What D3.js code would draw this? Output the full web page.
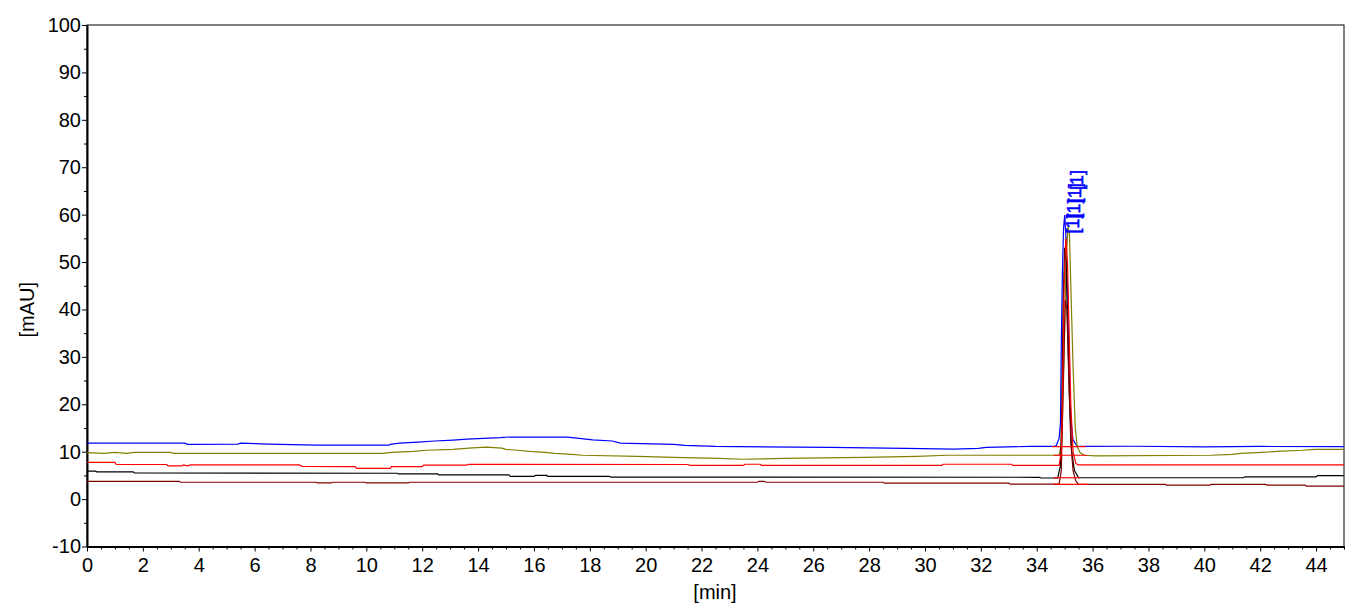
<!DOCTYPE html>
<html>
<head>
<meta charset="utf-8">
<script src="https://cdnjs.cloudflare.com/ajax/libs/d3/7.8.5/d3.min.js"></script>
<style>
  body { margin: 0; background: #fff; }
  .axis text { font-family: "Liberation Sans", Arial, sans-serif; font-size: 20px; fill: #000; }
  .axis path, .axis line { stroke: #000; }
  .trace { fill: none; stroke-width: 1.2; }
  .title { font-family: "Liberation Sans", Arial, sans-serif; font-size: 20px; fill: #000; }
  .plabel { font-family: "Liberation Sans", Arial, sans-serif; font-size: 18px; fill: #0000ff; stroke: #0000ff; stroke-width: 0.5; }
</style>
</head>
<body>
<div class="chromGraph"></div>
<script>

// x ticks (min) and y ticks (mAU)
var xTicks = [0, 2, 4, 6, 8, 10, 12, 14, 16, 18, 20, 22, 24, 26, 28, 30, 32, 34, 36, 38, 40, 42, 44];
var yTicks = [-10, 0, 10, 20, 30, 40, 50, 60, 70, 80, 90, 100];

// traces: [time, mAU]
var blueTrace = [[0, 11.8], [3.5, 11.8], [3.6, 11.55], [5.4, 11.6], [5.5, 11.8], [6.5, 11.6], [8.2, 11.4], [10.8, 11.4],
  [10.9, 11.6], [11.2, 11.8], [11.85, 12.0], [12.45, 12.25], [13.1, 12.45], [13.6, 12.65], [14.8, 12.95], [15.1, 13.1],
  [17.2, 13.05], [17.7, 12.75], [18.1, 12.5], [18.8, 12.25], [19.1, 11.8], [21, 11.55], [21.4, 11.35], [22.5, 11.1],
  [26.6, 10.9], [29.3, 10.7], [31.05, 10.55], [31.9, 10.7], [32.2, 10.9], [33.75, 11.1], [34.6, 11.1],
  [34.7, 11.3], [34.8, 12.8], [34.85, 16], [34.88, 33], [34.92, 48], [34.96, 57], [35.0, 59.9], [35.05, 55],
  [35.1, 45], [35.14, 33], [35.2, 18], [35.3, 12.5], [35.45, 11.1], [37.5, 11.15], [40, 11.0], [42, 11.1], [45, 11.05]];

var oliveTrace = [[0, 9.8], [0.6, 9.65], [1.0, 9.85], [1.4, 9.65], [1.7, 9.85], [3.0, 9.85], [3.1, 9.65], [10.6, 9.65],
  [10.9, 9.85], [11.7, 10.05], [12.15, 10.3], [13.1, 10.5], [13.8, 10.8], [14.3, 10.95], [14.85, 10.75], [15.0, 10.5],
  [15.4, 10.3], [15.85, 10.05], [16.4, 9.85], [16.75, 9.65], [17.35, 9.45], [17.75, 9.25], [19.7, 9.0], [21, 8.8],
  [22.6, 8.6], [23.5, 8.4], [25.0, 8.6], [27.8, 8.8], [29.7, 9.0], [30.8, 9.25], [34.8, 9.25],
  [34.9, 12], [34.98, 30], [35.05, 50], [35.12, 57.5], [35.17, 56], [35.22, 45], [35.3, 28], [35.38, 15],
  [35.45, 11], [35.55, 9.8], [35.7, 9.25], [36.1, 9.1], [40.25, 9.25], [41, 9.45], [41.3, 9.65], [42.05, 9.85],
  [42.6, 10.05], [43.5, 10.3], [43.95, 10.5], [45, 10.5]];

var redTrace = [[0, 7.75], [1.0, 7.75], [1.05, 7.3], [2.85, 7.3], [2.9, 7.0], [3.4, 7.0], [3.45, 7.2], [3.6, 7.0],
  [3.7, 7.2], [7.6, 7.2], [7.7, 6.9], [9.6, 6.85], [9.65, 6.5], [10.85, 6.5], [10.9, 6.85], [12.0, 6.85], [12.05, 7.15],
  [13.6, 7.15], [13.65, 7.35], [21.5, 7.3], [21.6, 7.1], [23.5, 7.1], [23.55, 7.35], [24.1, 7.35], [24.15, 7.1],
  [30.6, 7.1], [30.65, 7.35], [33.1, 7.35], [33.15, 7.1], [34.8, 7.1],
  [34.88, 10], [34.93, 25], [34.98, 45], [35.04, 55], [35.1, 50], [35.16, 35], [35.22, 20], [35.3, 10],
  [35.4, 7.5], [35.5, 7.2], [45, 7.2]];

var blackTrace = [[0, 5.9], [0.3, 5.9], [0.35, 5.75], [1.65, 5.75], [1.7, 5.5], [11.1, 5.45], [11.15, 5.3], [12.55, 5.3],
  [12.6, 5.1], [15.1, 5.1], [15.15, 4.8], [16, 4.8], [16.05, 5.0], [16.45, 5.0], [16.5, 4.8], [18.7, 4.8], [18.75, 4.65],
  [34.1, 4.6], [34.15, 4.45], [34.75, 4.45],
  [34.85, 7], [34.9, 20], [34.95, 42], [35.0, 53], [35.05, 50], [35.1, 38], [35.17, 22], [35.25, 10], [35.35, 6],
  [35.5, 4.5], [41.4, 4.5], [41.45, 4.7], [44, 4.7], [44.05, 4.95], [45, 4.95]];

var maroonTrace = [[0, 3.75], [3.3, 3.75], [3.35, 3.55], [8.2, 3.55], [8.25, 3.4], [8.75, 3.4], [8.8, 3.55], [9.95, 3.55],
  [10, 3.4], [11.5, 3.4], [11.55, 3.55], [24, 3.55], [24.05, 3.75], [24.25, 3.75], [24.3, 3.55], [28.5, 3.55],
  [28.55, 3.35], [33.0, 3.35], [33.05, 3.15], [34.8, 3.15],
  [34.88, 6], [34.95, 25], [35.02, 42], [35.08, 40], [35.15, 25], [35.22, 12], [35.3, 6], [35.4, 3.8],
  [35.5, 3.1], [38.6, 3.1], [38.65, 2.95], [40.2, 2.95], [40.25, 3.1], [42.2, 3.1], [42.25, 2.95], [43.6, 2.95],
  [43.65, 2.75], [45, 2.75]];

// integration baselines under the peak: [start, end, level]
var peakBaselines = [[34.55, 35.75, 11.05], [34.6, 35.8, 9.25], [34.6, 35.55, 4.5], [34.6, 35.85, 3.1]];

// peak labels: [time, mAU, text]
var peakLabels = [[35.5, 56.0, "[1]"], [35.55, 59.2, "[1]"], [35.6, 62.4, "[1]"], [35.65, 65.2, "[1]"]];

var width = 1356;
var height = 614;
var margin = {top: 25, left: 87, right: 12, bottom: 67.5};
var plotW = width - margin.left - margin.right;
var plotH = height - margin.top - margin.bottom;

var x = d3.scaleLinear().domain([0, 45]).range([0, plotW]);
var y = d3.scaleLinear().domain([-10, 100]).range([plotH, 0]);

var svg = d3.select('.chromGraph').append('svg')
            .attr('width', width)
            .attr('height', height);

var chartGroup = svg.append('g')
                    .attr('transform', 'translate(' + margin.left + ',' + margin.top + ')');

// frame top and right
chartGroup.append('rect')
          .attr('x', 0).attr('y', 0)
          .attr('width', plotW).attr('height', plotH)
          .attr('fill', 'none').attr('stroke', '#000').attr('stroke-width', 1);

// minor ticks
var xMinor = d3.range(0, 45.01, 0.5).filter(function(d) { return d % 2 !== 0; });
var yMinor = d3.range(-5, 100, 10);

chartGroup.append('g').attr('class', 'axis')
          .attr('transform', 'translate(0,' + plotH + ')')
          .call(d3.axisBottom(x).tickValues(xMinor).tickSize(3).tickFormat(''))
          .select('.domain').remove();
chartGroup.append('g').attr('class', 'axis')
          .call(d3.axisLeft(y).tickValues(yMinor).tickSize(3).tickFormat(''))
          .select('.domain').remove();

var plain = function(d) { return String(d); };
var xAxis = d3.axisBottom(x).tickValues(xTicks).tickFormat(plain).tickSize(5).tickPadding(6).tickSizeOuter(0);
var yAxis = d3.axisLeft(y).tickValues(yTicks).tickFormat(plain).tickSize(5).tickPadding(1).tickSizeOuter(0);

var xg = chartGroup.append('g').attr('class', 'axis')
                   .attr('transform', 'translate(0,' + plotH + ')')
                   .call(xAxis);
xg.select('.domain').attr('stroke-width', 2);

var yg = chartGroup.append('g').attr('class', 'axis').call(yAxis);
yg.select('.domain').attr('stroke-width', 2);

var line = d3.line()
             .x(function(d) { return x(d[0]); })
             .y(function(d) { return y(d[1]); });

var traces = [
  {data: blueTrace, color: '#0000ff'},
  {data: oliveTrace, color: '#808000'},
  {data: blackTrace, color: '#000000'},
  {data: maroonTrace, color: '#800000'},
  {data: redTrace, color: '#ff0000'}
];

chartGroup.append('g').selectAll('path')
          .data(traces)
          .enter().append('path')
          .attr('class', 'trace')
          .attr('stroke', function(d) { return d.color; })
          .attr('d', function(d) { return line(d.data); });

chartGroup.append('g').selectAll('line')
          .data(peakBaselines)
          .enter().append('line')
          .attr('x1', function(d) { return x(d[0]); })
          .attr('x2', function(d) { return x(d[1]); })
          .attr('y1', function(d) { return y(d[2]); })
          .attr('y2', function(d) { return y(d[2]); })
          .attr('stroke', '#ff0000')
          .attr('stroke-width', 1.2);

chartGroup.append('g').selectAll('text')
          .data(peakLabels)
          .enter().append('text')
          .attr('class', 'plabel')
          .attr('transform', function(d) { return 'translate(' + x(d[0]) + ',' + y(d[1]) + ') rotate(-90)'; })
          .text(function(d) { return d[2]; });

// axis titles
svg.append('text').attr('class', 'title')
   .attr('transform', 'translate(34,' + (margin.top + plotH / 2 + 24) + ') rotate(-90)')
   .attr('text-anchor', 'middle')
   .text('[mAU]');

svg.append('text').attr('class', 'title')
   .attr('x', 715).attr('y', 599)
   .attr('text-anchor', 'middle')
   .text('[min]');

</script>
</body>
</html>
